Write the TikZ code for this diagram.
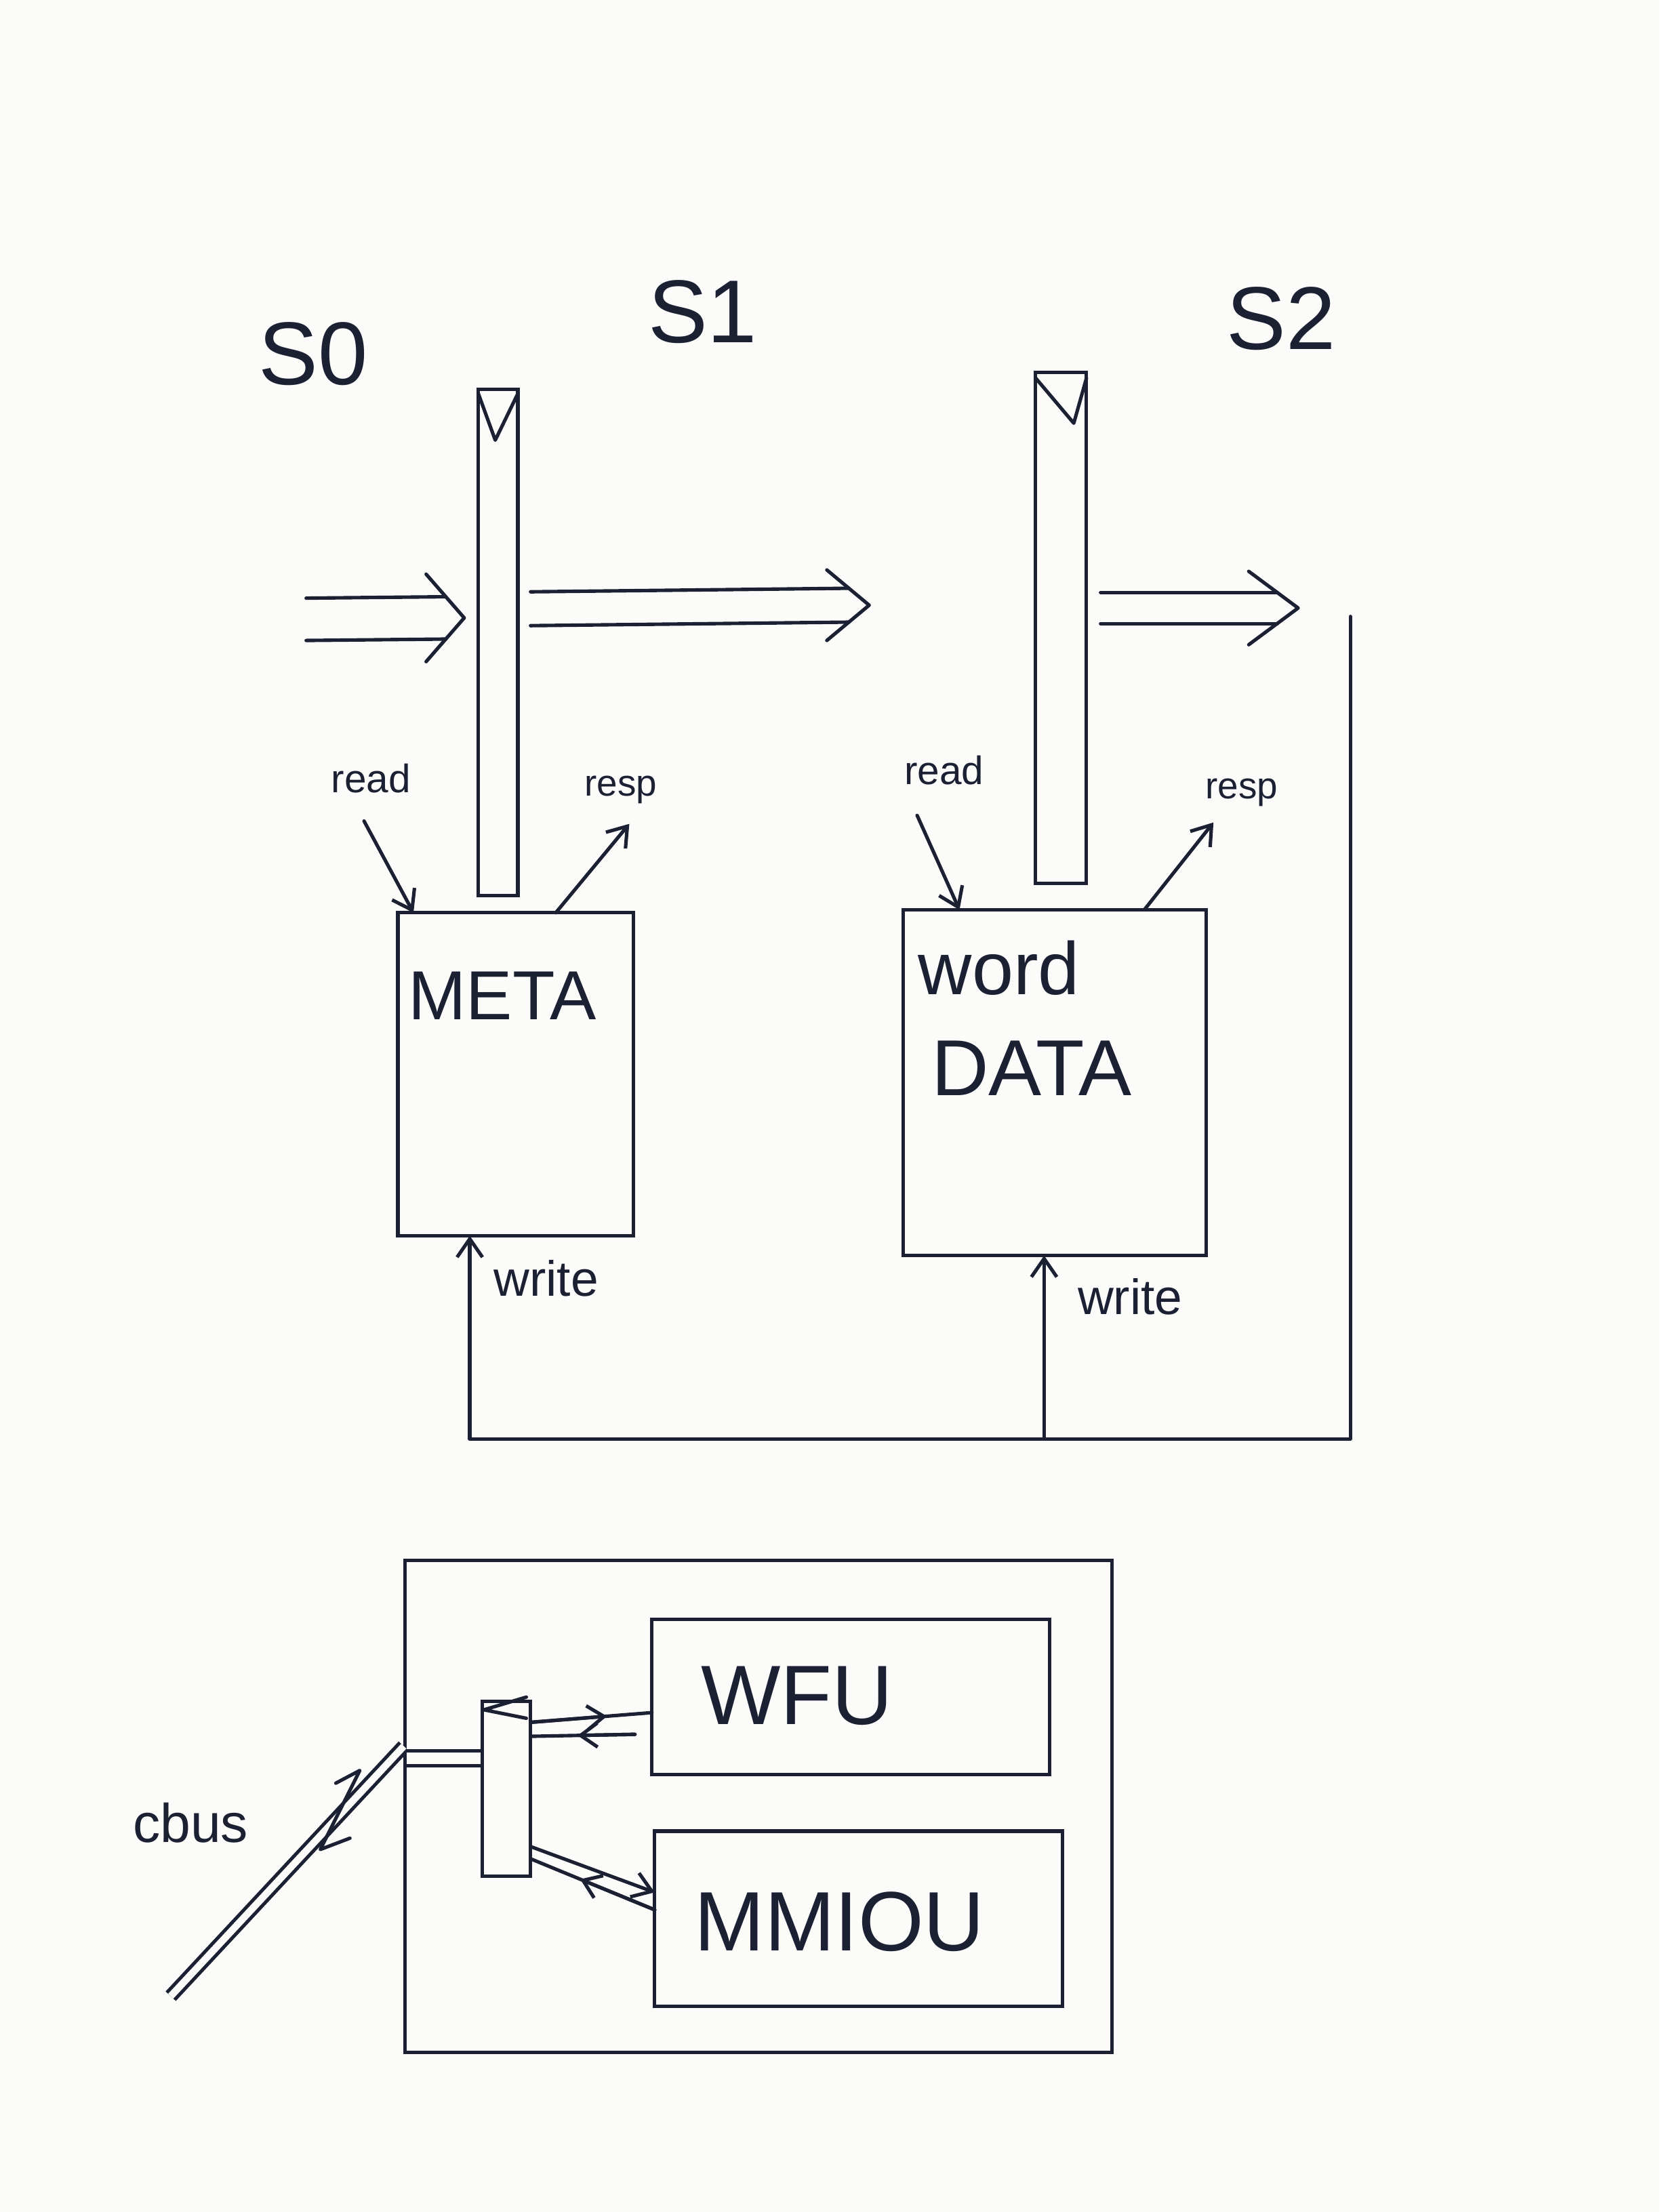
\documentclass[tikz,border=0pt]{standalone}
\usepackage{fontspec}
\setmainfont{Liberation Sans}
\usetikzlibrary{arrows.meta,calc}
\definecolor{ink}{HTML}{1B2133}
\definecolor{paper}{HTML}{FBFBFA}
% #1 start, #2 apex, #3 half gap, #4 chevron length, #5 chevron half width
\newcommand\fatarr[5]{%
  \draw[wire] ($(#1)+(0,-#3)$) -- ($(#2)+(-#4*#3/#5,-#3)$);
  \draw[wire] ($(#1)+(0,#3)$) -- ($(#2)+(-#4*#3/#5,#3)$);
  \draw[wire] ($(#2)+(-#4,-#5)$) -- (#2) -- ($(#2)+(-#4,#5)$);
}
\begin{document}
\begin{tikzpicture}[x=0.2mm,y=-0.2mm,
  wire/.style={draw=ink,line width=1.4pt,line cap=round,line join=round},
  arrtip/.style={-{Straight Barb[length=2.6mm,width=3.6mm]}},
  smalltip/.style={-{Straight Barb[length=2.4mm,width=3.4mm]}},
  box/.style={draw=ink,line width=1.4pt,rectangle,inner sep=0pt,outer sep=0pt},
  lbl/.style={text=ink,inner sep=0pt},
  dbl/.style={wire,line cap=butt,double=paper,double distance=#1},
]
\fill[paper] (0,0) rectangle (1176,1568);
\useasboundingbox (0,0) rectangle (1176,1568);

% stage labels
\node[lbl,font=\fontsize{36}{40}\selectfont] (s0) at (222,251) {S0};
\node[lbl,font=\fontsize{36}{40}\selectfont] (s1) at (498,221) {S1};
\node[lbl,font=\fontsize{36}{40}\selectfont] (s2) at (908,226) {S2};

% pipeline registers
\node[box,minimum width=5.6mm,minimum height=71.8mm] (r1) at (353,455.5) {};
\node[box,minimum width=7.2mm,minimum height=72.4mm] (r2) at (752,445) {};
\draw[wire] ($(r1.north west)+(0,3)$) -- ($(r1.north)+(-2,36)$) -- ($(r1.north east)+(0,3)$);
\draw[wire] ($(r2.north west)+(0,4)$) -- ($(r2.north)+(9,36)$) -- ($(r2.north east)+(0,4)$);

% fat pipeline arrows
\coordinate (a0s) at (217,439);
\coordinate (a0e) at (329,438);
\coordinate (a1s) at ($(r1.east)+(9,-24)$);
\coordinate (a1e) at (616,429);
\coordinate (a2s) at ($(r2.east)+(10,-14)$);
\coordinate (a2e) at (920,431);
\fatarr{a0s}{a0e}{15}{27}{31}
\fatarr{a1s}{a1e}{12}{30}{25}
\fatarr{a2s}{a2e}{11}{35}{26}

% memories
\node[box,minimum width=33.4mm,minimum height=45.8mm] (meta) at (365.5,761.5) {};
\node[lbl,font=\fontsize{28}{32}\selectfont] (metat) at (356,706) {META};
\node[box,minimum width=43mm,minimum height=49mm] (data) at (747.5,767.5) {};
\node[lbl,font=\fontsize{30}{34}\selectfont] (wordt) at (708,686) {word};
\node[lbl,font=\fontsize{32}{36}\selectfont] (datat) at (731,757) {DATA};

% read / resp
\node[lbl,font=\fontsize{16}{18}\selectfont] (read1) at (263,552) {read};
\coordinate (rd1s) at (258,582);
\draw[wire,arrtip] (rd1s) -- ($(meta.north west)!0.066!(meta.north east)$);
\node[lbl,font=\fontsize{15}{17}\selectfont] (resp1) at (440,560) {resp};
\coordinate (rp1e) at (446,584);
\draw[wire,arrtip] ($(meta.north west)!0.67!(meta.north east)$) -- (rp1e);

\node[lbl,font=\fontsize{16}{18}\selectfont] (read2) at (669,546) {read};
\coordinate (rd2s) at (650,578);
\draw[wire,arrtip] (rd2s) -- ($(data.north west)!0.186!(data.north east)$);
\node[lbl,font=\fontsize{15}{17}\selectfont] (resp2) at (880,562) {resp};
\coordinate (rp2e) at (860,583);
\draw[wire,arrtip] ($(data.north west)!0.795!(data.north east)$) -- (rp2e);

% write-back loop
\coordinate (lt) at (957,437);
\coordinate (lb) at (0,1020);
\coordinate (mw) at ($(meta.south west)!0.305!(meta.south east)$);
\coordinate (dw) at ($(data.south west)!0.465!(data.south east)$);
\draw[wire,arrtip] (lt) -- (lt |- lb) -- (mw |- lb) -- (mw);
\draw[wire,arrtip] (dw |- lb) -- (dw);
\node[lbl,font=\fontsize{20}{24}\selectfont] (write1) at (387,906) {write};
\node[lbl,font=\fontsize{20}{24}\selectfont] (write2) at (801,919) {write};

% bottom block
\node[box,minimum width=100.2mm,minimum height=69.8mm] (outer) at (537.5,1280.5) {};
\node[box,minimum width=56.4mm,minimum height=22mm] (wfu) at (603,1203) {};
\node[lbl,font=\fontsize{34}{38}\selectfont] (wfut) at (565,1202) {WFU};
\node[box,minimum width=57.8mm,minimum height=24.8mm] (mmiou) at (608.5,1360) {};
\node[lbl,font=\fontsize{34}{38}\selectfont] (mmiout) at (595,1362) {MMIOU};
\node[box,minimum width=6.8mm,minimum height=24.8mm] (mux) at (359,1268) {};
\draw[wire] ($(mux.north east)+(-3,-3)$) -- ($(mux.north west)+(1,6)$) -- ($(mux.north east)+(-3,12)$);

% cbus
\node[lbl,font=\fontsize{22}{26}\selectfont] (cbus) at (135,1292) {cbus};
\coordinate (cbs) at (121,1415);
\coordinate (cbe) at ($(outer.north west)!0.375!(outer.south west)$);
\draw[dbl=1mm,shorten >=0.7pt] (cbs) -- (cbe);
\draw[wire] (238,1264) -- (255,1255) -- (227,1311) -- (248,1303);
\coordinate (cin) at ($(outer.north west)!0.4026!(outer.south west)$);
\draw[dbl=1.6mm,shorten <=0.7pt,shorten >=0.7pt] (cin) -- (cin -| mux.west);

% mux <-> WFU
\coordinate (m1) at ($(mux.north east)!0.12!(mux.south east)$);
\coordinate (w1) at ($(wfu.north west)!0.6!(wfu.south west)$);
\draw[wire] (m1) -- (w1);
\draw[wire,smalltip] (m1) -- ($(m1)!0.63!(w1)$);
\coordinate (w2) at ($(wfu.north west)!0.74!(wfu.south west)+(-12,0)$);
\coordinate (m2) at ($(mux.north east)!0.2!(mux.south east)$);
\draw[wire] (w2) -- (m2);
\draw[wire,smalltip] (w2) -- ($(w2)!0.55!(m2)$);

% mux <-> MMIOU
\coordinate (m3) at ($(mux.north east)!0.83!(mux.south east)$);
\coordinate (mm1) at ($(mmiou.north west)!0.35!(mmiou.south west)$);
\draw[wire,arrtip] (m3) -- (mm1);
\coordinate (mm2) at ($(mmiou.north west)!0.45!(mmiou.south west)$);
\coordinate (m4) at ($(mux.north east)!0.9!(mux.south east)$);
\draw[wire] (mm2) -- (m4);
\draw[wire,smalltip] (mm2) -- ($(mm2)!0.6!(m4)$);
\end{tikzpicture}
\end{document}
